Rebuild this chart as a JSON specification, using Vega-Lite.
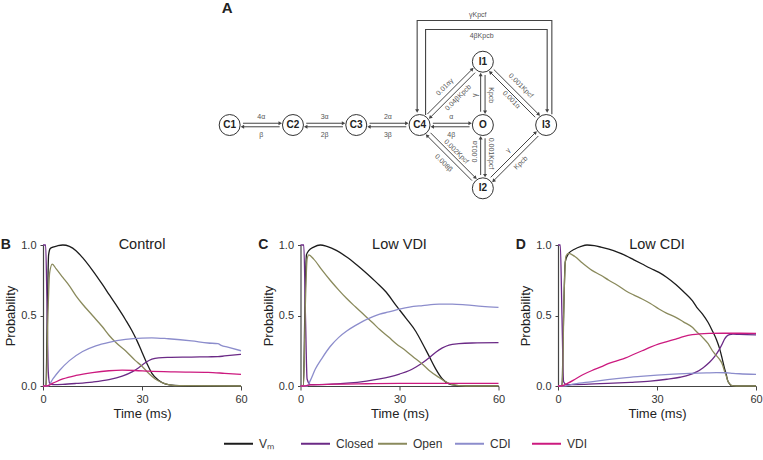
{
  "$schema": "https://vega.github.io/schema/vega-lite/v6.json",
  "padding": 0,
  "background": "white",
  "spacing": 20,
  "config": {
    "font": "Liberation Sans",
    "view": {"stroke": null},
    "axis": {"domainColor": "#444", "domainWidth": 1.2, "tickColor": "#444", "labelColor": "#333", "titleColor": "#222", "labelFont": "Liberation Sans", "titleFont": "Liberation Sans", "titleFontWeight": "normal", "grid": false, "labelFontSize": 11, "titleFontSize": 13},
    "axisY": {"minExtent": 0, "tickSize": 3, "labelPadding": 4, "titlePadding": 3},
    "axisX": {"tickSize": 4, "labelPadding": 3, "titlePadding": 3, "labelFlush": false}
  },
  "datasets": {
    "nodes": [
      {"id": "C1", "x": 0, "y": 0}, {"id": "C2", "x": 1, "y": 0}, {"id": "C3", "x": 2, "y": 0}, {"id": "C4", "x": 3, "y": 0},
      {"id": "O", "x": 4, "y": 0}, {"id": "I3", "x": 5, "y": 0}, {"id": "I1", "x": 4, "y": 1}, {"id": "I2", "x": 4, "y": -1}
    ],
    "edges": [
      {"x": 0.21, "y": 0.028, "x2": 0.79, "y2": 0.028}, {"x": 0.79, "y": -0.028, "x2": 0.21, "y2": -0.028},
      {"x": 1.21, "y": 0.028, "x2": 1.79, "y2": 0.028}, {"x": 1.79, "y": -0.028, "x2": 1.21, "y2": -0.028},
      {"x": 2.21, "y": 0.028, "x2": 2.79, "y2": 0.028}, {"x": 2.79, "y": -0.028, "x2": 2.21, "y2": -0.028},
      {"x": 3.21, "y": 0.028, "x2": 3.79, "y2": 0.028}, {"x": 3.79, "y": -0.028, "x2": 3.21, "y2": -0.028},
      {"x": 3.965, "y": 0.21, "x2": 3.965, "y2": 0.79}, {"x": 4.035, "y": 0.79, "x2": 4.035, "y2": 0.21},
      {"x": 3.965, "y": -0.79, "x2": 3.965, "y2": -0.21}, {"x": 4.035, "y": -0.21, "x2": 4.035, "y2": -0.79},
      {"x": 3.123, "y": 0.173, "x2": 3.827, "y2": 0.877}, {"x": 3.877, "y": 0.827, "x2": 3.173, "y2": 0.123},
      {"x": 4.173, "y": 0.877, "x2": 4.877, "y2": 0.173}, {"x": 4.827, "y": 0.123, "x2": 4.123, "y2": 0.827},
      {"x": 3.173, "y": -0.123, "x2": 3.877, "y2": -0.827}, {"x": 3.827, "y": -0.877, "x2": 3.123, "y2": -0.173},
      {"x": 4.123, "y": -0.827, "x2": 4.827, "y2": -0.123}, {"x": 4.877, "y": -0.173, "x2": 4.173, "y2": -0.877}
    ],
    "loops": [
      {"loop": "outer", "k": 0, "x": 5.09, "y": 0.17}, {"loop": "outer", "k": 1, "x": 5.09, "y": 1.65},
      {"loop": "outer", "k": 2, "x": 2.962, "y": 1.65}, {"loop": "outer", "k": 3, "x": 2.962, "y": 0.22},
      {"loop": "inner", "k": 0, "x": 3.095, "y": 0.16}, {"loop": "inner", "k": 1, "x": 3.095, "y": 1.51},
      {"loop": "inner", "k": 2, "x": 5.016, "y": 1.51}, {"loop": "inner", "k": 3, "x": 5.016, "y": 0.22}
    ],
    "rates": [
      {"text": "4α", "x": 0.5, "y": 0.13, "o": "h"}, {"text": "β", "x": 0.5, "y": -0.16, "o": "h"},
      {"text": "3α", "x": 1.5, "y": 0.13, "o": "h"}, {"text": "2β", "x": 1.5, "y": -0.16, "o": "h"},
      {"text": "2α", "x": 2.5, "y": 0.13, "o": "h"}, {"text": "3β", "x": 2.5, "y": -0.16, "o": "h"},
      {"text": "α", "x": 3.5, "y": 0.13, "o": "h"}, {"text": "4β", "x": 3.5, "y": -0.16, "o": "h"},
      {"text": "γKpcf", "x": 3.92, "y": 1.74, "o": "h"}, {"text": "4βKpcb", "x": 3.98, "y": 1.41, "o": "h"},
      {"text": "γ", "x": 3.87, "y": 0.47, "o": "up"}, {"text": "0.001α", "x": 3.87, "y": -0.42, "o": "up"},
      {"text": "Kpcb", "x": 4.13, "y": 0.47, "o": "down"}, {"text": "0.001Kpcf", "x": 4.13, "y": -0.45, "o": "down"},
      {"text": "0.01αγ", "x": 3.4, "y": 0.6, "o": "ne"}, {"text": "0.04βKpcb", "x": 3.61, "y": 0.43, "o": "ne"},
      {"text": "γ", "x": 4.4, "y": -0.4, "o": "ne"}, {"text": "Kpcb", "x": 4.6, "y": -0.6, "o": "ne"},
      {"text": "0.001Kpcf", "x": 4.6, "y": 0.62, "o": "se"}, {"text": "0.001α", "x": 4.45, "y": 0.4, "o": "se"},
      {"text": "0.002Kpcf", "x": 3.58, "y": -0.42, "o": "se"}, {"text": "0.008β", "x": 3.38, "y": -0.6, "o": "se"}
    ],
    "curves": [
      {"panel": "B", "s": "Vₘ", "t": [0, 0.9, 1.3, 1.7, 2.2, 3, 4.5, 6, 8, 10, 12, 15, 18, 20, 22, 25, 27, 28.5, 30, 31.5, 33, 35, 37, 40, 45, 60], "p": [0, 0, 0.5, 0.93, 0.975, 0.985, 0.995, 1.0, 0.99, 0.96, 0.91, 0.82, 0.72, 0.65, 0.58, 0.47, 0.39, 0.32, 0.24, 0.16, 0.09, 0.04, 0.015, 0.004, 0, 0]},
      {"panel": "B", "s": "Closed", "t": [0, 0.8, 1.2, 1.6, 2.0, 3, 6, 10, 15, 20, 24, 27, 29, 31, 33, 35, 38, 45, 50, 53, 55, 60], "p": [1, 1, 0.6, 0.1, 0.02, 0.01, 0.012, 0.018, 0.028, 0.045, 0.07, 0.1, 0.13, 0.165, 0.19, 0.2, 0.203, 0.205, 0.207, 0.208, 0.213, 0.225]},
      {"panel": "B", "s": "Open", "t": [0, 1.0, 1.5, 2.0, 2.8, 4, 6, 8, 10, 12, 15, 18, 20, 22, 25, 28, 30, 32, 34, 36, 38, 40, 60], "p": [0, 0, 0.5, 0.8, 0.865, 0.83, 0.77, 0.71, 0.64, 0.58, 0.5, 0.42, 0.36, 0.31, 0.25, 0.18, 0.14, 0.09, 0.05, 0.025, 0.01, 0.002, 0]},
      {"panel": "B", "s": "CDI", "t": [0, 1.5, 3, 5, 8, 12, 16, 20, 25, 30, 33, 38, 45, 50, 53, 54, 56, 60], "p": [0, 0, 0.05, 0.11, 0.18, 0.245, 0.285, 0.31, 0.33, 0.34, 0.342, 0.335, 0.32, 0.305, 0.3, 0.288, 0.275, 0.25]},
      {"panel": "B", "s": "VDI", "t": [0, 1, 3, 6, 10, 15, 20, 24, 28, 32, 40, 50, 55, 60], "p": [0, 0, 0.02, 0.05, 0.075, 0.095, 0.108, 0.112, 0.11, 0.105, 0.1, 0.097, 0.09, 0.082]},
      {"panel": "C", "s": "Vₘ", "t": [0, 0.9, 1.3, 1.8, 2.5, 4, 6, 8, 11, 14, 17, 20, 23, 26, 29, 32, 35, 37, 39, 41, 43, 45, 47, 50, 60], "p": [0, 0, 0.5, 0.93, 0.96, 0.985, 1.0, 0.99, 0.96, 0.915, 0.86, 0.8, 0.735, 0.665, 0.57, 0.48, 0.385, 0.3, 0.21, 0.12, 0.05, 0.015, 0.005, 0, 0]},
      {"panel": "C", "s": "Closed", "t": [0, 1.0, 1.5, 2.0, 3, 8, 14, 20, 24, 27, 30, 33, 35, 37, 39, 41, 43, 45, 48, 52, 60], "p": [1, 1, 0.5, 0.05, 0.01, 0.012, 0.02, 0.035, 0.05, 0.065, 0.085, 0.11, 0.135, 0.165, 0.2, 0.24, 0.27, 0.29, 0.3, 0.305, 0.307]},
      {"panel": "C", "s": "Open", "t": [0, 0.9, 1.5, 2.0, 2.5, 4, 6.6, 9, 11.6, 14, 16.7, 19, 21.8, 24, 26.8, 29, 31.9, 34, 36.9, 39, 42, 44, 46, 50, 60], "p": [0, 0, 0.6, 0.9, 0.93, 0.9, 0.82, 0.75, 0.68, 0.62, 0.56, 0.51, 0.45, 0.4, 0.345, 0.3, 0.25, 0.21, 0.156, 0.11, 0.06, 0.03, 0.01, 0, 0]},
      {"panel": "C", "s": "CDI", "t": [0, 2.0, 3, 4.5, 6.6, 9, 11.6, 14, 16.7, 19, 21.8, 24, 26.8, 30, 33, 37, 42, 46, 50, 55, 60], "p": [0, 0, 0.04, 0.12, 0.2, 0.28, 0.345, 0.39, 0.43, 0.46, 0.49, 0.51, 0.525, 0.545, 0.56, 0.57, 0.58, 0.58, 0.575, 0.565, 0.558]},
      {"panel": "C", "s": "VDI", "t": [0, 1, 3, 10, 20, 30, 40, 50, 60], "p": [0, 0, 0.008, 0.013, 0.016, 0.018, 0.018, 0.018, 0.018]},
      {"panel": "D", "s": "Vₘ", "t": [0, 1.2, 1.7, 2.2, 3.2, 5, 7, 8.8, 11, 13, 15.4, 18, 20.5, 23, 25.5, 28, 30.6, 33, 35.7, 38, 40.7, 42, 43.8, 45.5, 46.8, 48, 48.9, 49.7, 50.4, 51, 51.4, 52, 52.4, 54, 60], "p": [0, 0, 0.5, 0.88, 0.94, 0.97, 0.99, 1.0, 0.995, 0.985, 0.97, 0.95, 0.925, 0.895, 0.865, 0.835, 0.806, 0.77, 0.72, 0.67, 0.605, 0.56, 0.51, 0.45, 0.39, 0.33, 0.27, 0.2, 0.13, 0.08, 0.04, 0.015, 0.005, 0, 0]},
      {"panel": "D", "s": "Closed", "t": [0, 0.7, 1.2, 1.7, 2.5, 8, 15, 22, 28, 33, 37, 40, 42, 44, 46, 47.5, 48.9, 49.8, 50.4, 51.2, 52, 53, 55, 60], "p": [1, 1, 0.5, 0.03, 0.01, 0.012, 0.018, 0.026, 0.035, 0.048, 0.062, 0.08, 0.1, 0.13, 0.17, 0.21, 0.26, 0.3, 0.33, 0.355, 0.365, 0.368, 0.366, 0.363]},
      {"panel": "D", "s": "Open", "t": [0, 1.3, 1.8, 2.4, 3.2, 5, 7.5, 10.3, 13, 15.4, 18, 20.5, 23, 25.5, 28, 30.6, 33, 35.7, 38, 40.7, 42, 43.8, 45.5, 46.8, 48, 48.9, 49.7, 50.4, 51, 51.4, 52, 52.5, 54, 60], "p": [0, 0, 0.6, 0.92, 0.94, 0.92, 0.87, 0.82, 0.785, 0.75, 0.715, 0.676, 0.645, 0.617, 0.585, 0.546, 0.515, 0.487, 0.455, 0.416, 0.385, 0.345, 0.3, 0.25, 0.215, 0.19, 0.16, 0.109, 0.07, 0.04, 0.015, 0.005, 0, 0]},
      {"panel": "D", "s": "CDI", "t": [0, 1.5, 5, 10, 15, 20, 25, 30, 35, 40, 45, 48, 51, 53, 55, 60], "p": [0, 0, 0.015, 0.03, 0.045, 0.058, 0.068, 0.077, 0.084, 0.089, 0.093, 0.095, 0.094, 0.09, 0.087, 0.082]},
      {"panel": "D", "s": "VDI", "t": [0, 1, 3, 5.3, 7.5, 10.3, 13, 15.4, 18, 20.5, 23, 25.5, 28, 30.6, 33, 35.7, 38, 40.7, 43, 45.8, 50, 55, 60], "p": [0, 0, 0.02, 0.05, 0.08, 0.11, 0.135, 0.16, 0.18, 0.2, 0.225, 0.25, 0.275, 0.298, 0.315, 0.333, 0.35, 0.364, 0.37, 0.373, 0.374, 0.374, 0.373]}
    ]
  },
  "vconcat": [
    {
      "width": 719,
      "height": 217,
      "encoding": {
        "x": {"field": "x", "type": "quantitative", "scale": {"domain": [-2.949, 8.41], "nice": false, "zero": false}, "axis": null},
        "y": {"field": "y", "type": "quantitative", "scale": {"domain": [-1.453, 1.975], "nice": false, "zero": false}, "axis": null}
      },
      "layer": [
        {"data": {"name": "loops"}, "mark": {"type": "line", "stroke": "#444", "strokeWidth": 1.1}, "encoding": {"detail": {"field": "loop"}, "order": {"field": "k", "type": "quantitative"}}},
        {"data": {"name": "edges"}, "mark": {"type": "rule", "stroke": "#444", "strokeWidth": 1}, "encoding": {"x2": {"field": "x2"}, "y2": {"field": "y2"}}},
        {"data": {"name": "edges"}, "transform": [{"calculate": "atan2(datum.x2 - datum.x, datum.y2 - datum.y) * 180 / PI", "as": "ang"}],
         "mark": {"type": "point", "shape": "triangle", "filled": true, "color": "#444", "size": 16, "opacity": 1},
         "encoding": {"x": {"field": "x2", "type": "quantitative"}, "y": {"field": "y2", "type": "quantitative"}, "angle": {"field": "ang", "type": "quantitative", "scale": null}}},
        {"data": {"name": "loops"}, "transform": [{"filter": "datum.k == 3"}], "mark": {"type": "point", "shape": "triangle-down", "filled": true, "color": "#444", "size": 16, "opacity": 1}},
        {"data": {"name": "nodes"}, "mark": {"type": "point", "shape": "circle", "filled": true, "fill": "white", "stroke": "#333", "strokeWidth": 1, "size": 440, "opacity": 1}},
        {"data": {"name": "nodes"}, "mark": {"type": "text", "fontWeight": "bold", "fontSize": 10, "color": "#222", "baseline": "middle", "align": "center"}, "encoding": {"text": {"field": "id"}}},
        {"data": {"name": "rates"}, "transform": [{"filter": "datum.o == 'h'"}], "mark": {"type": "text", "fontSize": 7, "color": "#555", "baseline": "middle"}, "encoding": {"text": {"field": "text"}}},
        {"data": {"name": "rates"}, "transform": [{"filter": "datum.o == 'up'"}], "mark": {"type": "text", "fontSize": 7, "color": "#555", "baseline": "middle", "angle": 270}, "encoding": {"text": {"field": "text"}}},
        {"data": {"name": "rates"}, "transform": [{"filter": "datum.o == 'down'"}], "mark": {"type": "text", "fontSize": 7, "color": "#555", "baseline": "middle", "angle": 90}, "encoding": {"text": {"field": "text"}}},
        {"data": {"name": "rates"}, "transform": [{"filter": "datum.o == 'ne'"}], "mark": {"type": "text", "fontSize": 7, "color": "#555", "baseline": "middle", "angle": 315}, "encoding": {"text": {"field": "text"}}},
        {"data": {"name": "rates"}, "transform": [{"filter": "datum.o == 'se'"}], "mark": {"type": "text", "fontSize": 7, "color": "#555", "baseline": "middle", "angle": 45}, "encoding": {"text": {"field": "text"}}},
        {"data": {"values": [{"x": -0.04, "y": 1.765, "label": "A"}]}, "mark": {"type": "text", "fontWeight": "bold", "fontSize": 15, "color": "#222", "baseline": "alphabetic"}, "encoding": {"text": {"field": "label"}}}
      ]
    },
    {
      "spacing": 9.5,
      "hconcat": [
        {
          "width": 198, "height": 141,
          "encoding": {
            "x": {"field": "t", "type": "quantitative", "scale": {"domain": [0, 60], "nice": false}, "axis": {"values": [0, 30, 60], "title": "Time (ms)"}},
            "y": {"field": "p", "type": "quantitative", "scale": {"domain": [0, 1], "nice": false}, "axis": {"values": [0, 0.5, 1], "format": ".1f", "title": "Probability"}}
          },
          "layer": [
            {"data": {"name": "curves"}, "transform": [{"filter": "datum.panel == 'B'"}, {"flatten": ["t", "p"]}],
             "mark": {"type": "line", "interpolate": "monotone", "strokeWidth": 1.3},
             "encoding": {"color": {"field": "s", "type": "nominal", "scale": {"domain": ["Vₘ", "Closed", "Open", "CDI", "VDI"], "range": ["#1c1c1c", "#6b2a86", "#8a8a5c", "#8c8dcc", "#cc1a7f"]},
               "legend": {"orient": "none", "legendX": 180, "legendY": 428, "direction": "horizontal", "title": null, "symbolType": "stroke", "symbolSize": 841, "symbolStrokeWidth": 2, "labelFontSize": 12, "labelColor": "#333", "labelFont": "Liberation Sans", "columnPadding": 0, "labelOffset": 5, "gridAlign": "all"}}}},
            {"data": {"values": [{"t": -12.8, "p": 1, "label": "B"}]}, "mark": {"type": "text", "align": "left", "baseline": "middle", "fontWeight": "bold", "fontSize": 14, "color": "#222"}, "encoding": {"text": {"field": "label"}}},
            {"data": {"values": [{"t": 30, "p": 1, "label": "Control"}]}, "mark": {"type": "text", "align": "center", "baseline": "middle", "fontSize": 14.5, "color": "#222"}, "encoding": {"text": {"field": "label"}}}
          ]
        },
        {
          "width": 198, "height": 141,
          "encoding": {
            "x": {"field": "t", "type": "quantitative", "scale": {"domain": [0, 60], "nice": false}, "axis": {"values": [0, 30, 60], "title": "Time (ms)"}},
            "y": {"field": "p", "type": "quantitative", "scale": {"domain": [0, 1], "nice": false}, "axis": {"values": [0, 0.5, 1], "format": ".1f", "title": "Probability"}}
          },
          "layer": [
            {"data": {"name": "curves"}, "transform": [{"filter": "datum.panel == 'C'"}, {"flatten": ["t", "p"]}],
             "mark": {"type": "line", "interpolate": "monotone", "strokeWidth": 1.3},
             "encoding": {"color": {"field": "s", "type": "nominal", "scale": {"domain": ["Vₘ", "Closed", "Open", "CDI", "VDI"], "range": ["#1c1c1c", "#6b2a86", "#8a8a5c", "#8c8dcc", "#cc1a7f"]},
               "legend": {"orient": "none", "legendX": 180, "legendY": 428, "direction": "horizontal", "title": null, "symbolType": "stroke", "symbolSize": 841, "symbolStrokeWidth": 2, "labelFontSize": 12, "labelColor": "#333", "labelFont": "Liberation Sans", "columnPadding": 0, "labelOffset": 5, "gridAlign": "all"}}}},
            {"data": {"values": [{"t": -12.8, "p": 1, "label": "C"}]}, "mark": {"type": "text", "align": "left", "baseline": "middle", "fontWeight": "bold", "fontSize": 14, "color": "#222"}, "encoding": {"text": {"field": "label"}}},
            {"data": {"values": [{"t": 30, "p": 1, "label": "Low VDI"}]}, "mark": {"type": "text", "align": "center", "baseline": "middle", "fontSize": 14.5, "color": "#222"}, "encoding": {"text": {"field": "label"}}}
          ]
        },
        {
          "width": 198, "height": 141,
          "encoding": {
            "x": {"field": "t", "type": "quantitative", "scale": {"domain": [0, 60], "nice": false}, "axis": {"values": [0, 30, 60], "title": "Time (ms)"}},
            "y": {"field": "p", "type": "quantitative", "scale": {"domain": [0, 1], "nice": false}, "axis": {"values": [0, 0.5, 1], "format": ".1f", "title": "Probability"}}
          },
          "layer": [
            {"data": {"name": "curves"}, "transform": [{"filter": "datum.panel == 'D'"}, {"flatten": ["t", "p"]}],
             "mark": {"type": "line", "interpolate": "monotone", "strokeWidth": 1.3},
             "encoding": {"color": {"field": "s", "type": "nominal", "scale": {"domain": ["Vₘ", "Closed", "Open", "CDI", "VDI"], "range": ["#1c1c1c", "#6b2a86", "#8a8a5c", "#8c8dcc", "#cc1a7f"]},
               "legend": {"orient": "none", "legendX": 180, "legendY": 428, "direction": "horizontal", "title": null, "symbolType": "stroke", "symbolSize": 841, "symbolStrokeWidth": 2, "labelFontSize": 12, "labelColor": "#333", "labelFont": "Liberation Sans", "columnPadding": 0, "labelOffset": 5, "gridAlign": "all"}}}},
            {"data": {"values": [{"t": -12.8, "p": 1, "label": "D"}]}, "mark": {"type": "text", "align": "left", "baseline": "middle", "fontWeight": "bold", "fontSize": 14, "color": "#222"}, "encoding": {"text": {"field": "label"}}},
            {"data": {"values": [{"t": 30, "p": 1, "label": "Low CDI"}]}, "mark": {"type": "text", "align": "center", "baseline": "middle", "fontSize": 14.5, "color": "#222"}, "encoding": {"text": {"field": "label"}}}
          ]
        }
      ]
    }
  ]
}
